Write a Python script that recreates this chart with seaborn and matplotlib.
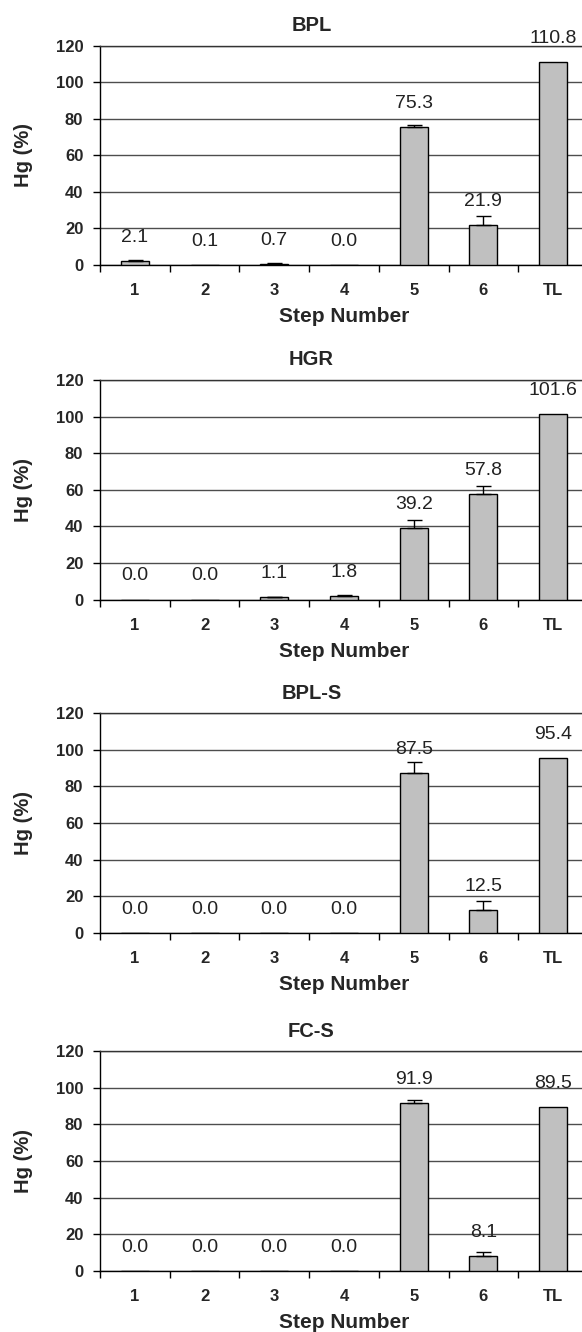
import matplotlib
matplotlib.use("Agg")
import matplotlib.pyplot as plt
import seaborn as sns
from matplotlib.ticker import FixedLocator

steps = ["1", "2", "3", "4", "5", "6", "TL"]
panel_names = ["BPL", "HGR", "BPL-S", "FC-S"]

bpl = [2.1, 0.1, 0.7, 0.0, 75.3, 21.9, 110.8]
bpl_err = [0.4, 0.0, 0.3, 0.0, 1.5, 5.1, 0.0]
hgr = [0.0, 0.0, 1.1, 1.8, 39.2, 57.8, 101.6]
hgr_err = [0.0, 0.0, 0.3, 0.4, 4.0, 4.0, 0.0]
bpls = [0.0, 0.0, 0.0, 0.0, 87.5, 12.5, 95.4]
bpls_err = [0.0, 0.0, 0.0, 0.0, 5.7, 4.8, 0.0]
fcs = [0.0, 0.0, 0.0, 0.0, 91.9, 8.1, 89.5]
fcs_err = [0.0, 0.0, 0.0, 0.0, 1.3, 2.3, 0.0]

values = [bpl, hgr, bpls, fcs]
errors = [bpl_err, hgr_err, bpls_err, fcs_err]

sns.set_theme(style="white")
plt.rcParams["font.family"] = ["Liberation Sans", "DejaVu Sans"]

W, H = 582, 1332
fig = plt.figure(figsize=(W / 100, H / 100), dpi=100)

# pixel layout of the four panels
left_px, right_px = 100, 588
tops_px = [45.5, 380, 713.3, 1051.3]
height_px = 219.5

for name, vals, errs, top in zip(panel_names, values, errors, tops_px):
    ax = fig.add_axes([left_px / W, 1 - (top + height_px) / H,
                       (right_px - left_px) / W, height_px / H])
    sns.barplot(x=steps, y=vals, color="#c0c0c0", saturation=1, width=0.4,
                edgecolor="black", linewidth=1.0, ax=ax, zorder=3)

    for bar, v, e in zip(ax.patches, vals, errs):
        cx = bar.get_x() + bar.get_width() / 2
        if e > 0:
            ax.errorbar(cx, v, yerr=[[0], [e]], fmt="none", ecolor="black",
                        elinewidth=1.0, capsize=5.4, capthick=1.0, zorder=4)
        ax.annotate(f"{v:.1f}", (cx, v), xytext=(0, 17), textcoords="offset points",
                    ha="center", va="center", fontsize=14, color="#222222",
                    annotation_clip=False)

    ax.set_xlim(-0.5, 6.5)
    ax.set_ylim(0, 120)
    ax.set_yticks(range(0, 121, 20))
    ax.yaxis.grid(True, color="#4d4d4d", linewidth=1.0)
    ax.set_axisbelow(True)

    ax.xaxis.set_minor_locator(FixedLocator([-0.5, 0.5, 1.5, 2.5, 3.5, 4.5, 5.5, 6.5]))
    ax.tick_params(axis="x", which="major", length=0, pad=13.3, labelsize=12)
    ax.tick_params(axis="x", which="minor", length=5, width=1, color="black",
                   direction="out", bottom=True)
    ax.tick_params(axis="y", which="major", length=5, width=1, color="black",
                   direction="out", left=True, pad=7, labelsize=12)
    for lab in ax.get_xticklabels() + ax.get_yticklabels():
        lab.set_fontweight("bold")

    for side in ["left", "bottom", "top"]:
        ax.spines[side].set_visible(True)
        ax.spines[side].set_color("black")
        ax.spines[side].set_linewidth(1.0)
    ax.spines["top"].set_color("#333333")
    ax.spines["right"].set_visible(False)

    ax.set_title(name, x=0.433, pad=10.5, fontsize=14.5, fontweight="bold")
    ax.set_xlabel("Step Number", fontsize=15, fontweight="bold")
    ax.set_ylabel("Hg (%)", fontsize=14.5, fontweight="bold")
    ax.xaxis.set_label_coords(0.5, -0.192)
    ax.yaxis.set_label_coords(-0.137, 0.5)

fig.savefig("out.png", dpi=100)
